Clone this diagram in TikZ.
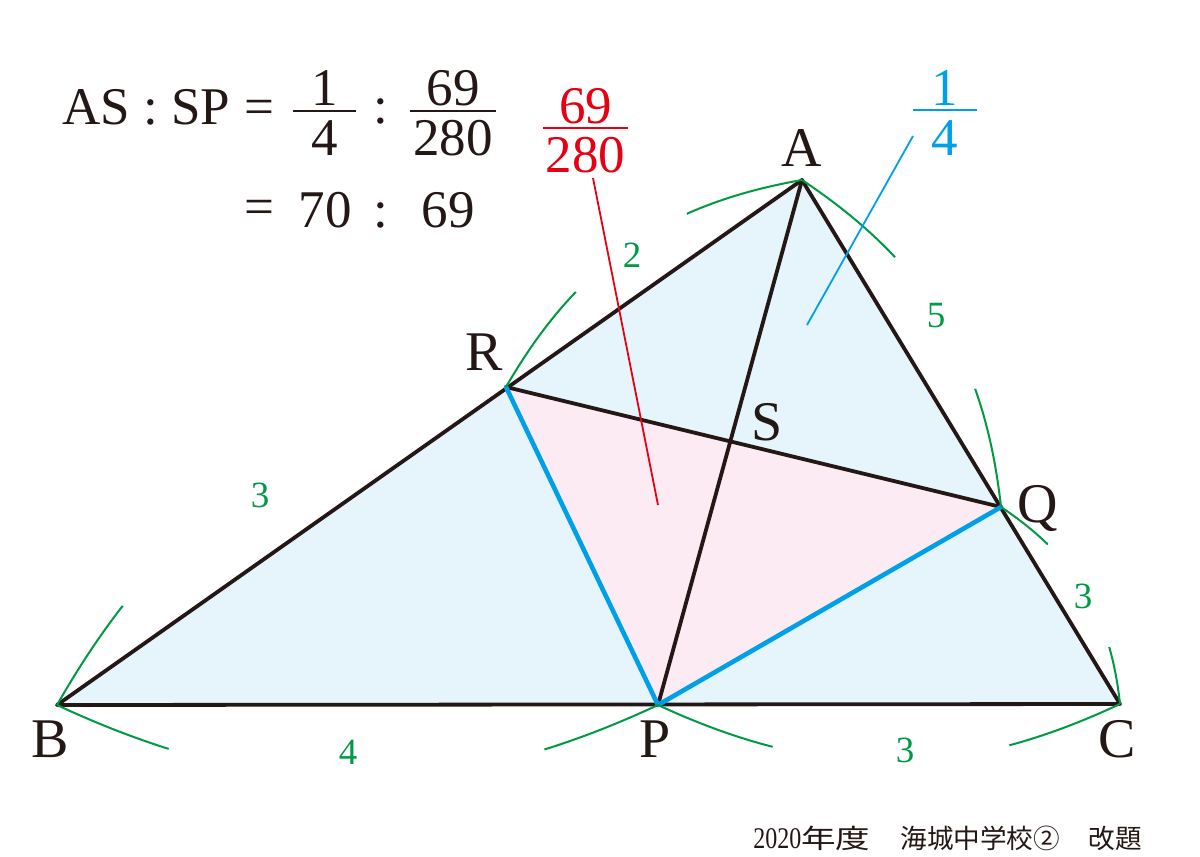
\documentclass[tikz,border=0pt]{standalone}
\usepackage{fontspec}
\setmainfont{Liberation Serif}
\newfontfamily\cjk{Noto Sans CJK JP}
\definecolor{ink}{HTML}{231815}
\definecolor{fillblue}{HTML}{E6F4FC}
\definecolor{fillpink}{HTML}{FCEBF3}
\definecolor{lineblue}{HTML}{00A0E9}
\definecolor{markgreen}{HTML}{009944}
\definecolor{markred}{HTML}{E60012}
\begin{document}
\begin{tikzpicture}[x=0.5pt,y=-0.5pt,
  edge/.style={draw=ink,line width=1.9pt,line join=round,line cap=round},
  cevian/.style={draw=lineblue,line width=2.3pt,line join=round,line cap=round},
  arcmark/.style={draw=markgreen,line width=1pt},
  vlabel/.style={font=\fontsize{28}{28}\selectfont,text=ink,anchor=base,inner sep=0pt},
  seglabel/.style={font=\fontsize{18.5}{18.5}\selectfont,text=markgreen,anchor=base,inner sep=0pt},
  eqtext/.style={font=\fontsize{26.5}{26.5}\selectfont,text=ink,anchor=base,inner sep=0pt},
  fracbar/.style={line width=0.8pt},
  leader/.style={line width=0.9pt},
  foot/.style={font=\fontsize{13.3}{13.3}\selectfont,text=ink,anchor=base west,inner sep=0pt}
]
\useasboundingbox (0,0) rectangle (1200,857);

% points
\coordinate (A) at (802,180);
\coordinate (B) at (57,705);
\coordinate (C) at (1120,704);
\coordinate (P) at (658,705);
\coordinate (Q) at (1001,507);
\coordinate (R) at (506,387);
\coordinate (S) at (intersection of A--P and R--Q);

% fills
\fill[fillblue] (A) -- (B) -- (C) -- cycle;
\fill[fillpink] (R) -- (P) -- (Q) -- cycle;

% segments
\draw[edge] (A) -- (B) -- (C) -- cycle;
\draw[edge] (R) -- (Q);
\draw[edge] (A) -- (P);
\draw[cevian] (R) -- (P) -- (Q);

% green length arcs (only their ends are shown)
\begin{scope}
  \clip (B) circle[radius=120] (P) circle[radius=122];
  \draw[arcmark] (B) to[bend right=25] (P);
\end{scope}
\begin{scope}
  \clip (P) circle[radius=122] (C) circle[radius=118];
  \draw[arcmark] (P) to[bend right=25] (C);
\end{scope}
\begin{scope}
  \clip (C) circle[radius=58] (Q) circle[radius=60];
  \draw[arcmark] (C) to[bend right=25] (Q);
\end{scope}
\begin{scope}
  \clip (Q) circle[radius=121] (A) circle[radius=121];
  \draw[arcmark] (Q) to[bend right=25] (A);
\end{scope}
\begin{scope}
  \clip (A) circle[radius=120] (R) circle[radius=118];
  \draw[arcmark] (A) to[bend right=25] (R);
\end{scope}
\begin{scope}
  \clip (B) circle[radius=119];
  \draw[arcmark] (R) to[bend right=25] (B);
\end{scope}

% vertex labels
\node[vlabel] (lA) at (802,166) {A};
\node[vlabel] (lB) at (50,757) {B};
\node[vlabel] (lC) at (1117,757) {C};
\node[vlabel] (lP) at (655,757) {P};
\node[vlabel] (lQ) at (1038,522) {Q};
\node[vlabel] (lR) at (484,370) {R};
\node[vlabel] (lS) at (767,440) {S};

% segment ratios
\node[seglabel] (n2) at (632,267) {2};
\node[seglabel] (n5) at (936,327) {5};
\node[seglabel] (n3a) at (260,507) {3};
\node[seglabel] (n3b) at (1083,608) {3};
\node[seglabel] (n4) at (348,764) {4};
\node[seglabel] (n3c) at (905,762) {3};

% formula, first row
\node[eqtext,anchor=base west] (ratio) at (62,124) {AS : SP};
\node[eqtext] (eq1) at (259,124) {=};
\node[eqtext] (num1) at (324.5,105) {1};
\draw[ink,fracbar] (293,111) -- (356,111);
\node[eqtext] (den1) at (324.5,155) {4};
\node[eqtext] (col1) at (381,123) {:};
\node[eqtext] (num2) at (453,105) {69};
\draw[ink,fracbar] (410,111) -- (496,111);
\node[eqtext] (den2) at (453,155) {280};
% formula, second row
\node[eqtext] (eq2) at (259,224) {=};
\node[eqtext] (r70) at (325,227) {70};
\node[eqtext] (col2) at (381,227) {:};
\node[eqtext] (r69) at (448,227) {69};

% red fraction and leader
\node[eqtext,text=markred] (rnum) at (585.5,123) {69};
\draw[markred,fracbar] (543,128) -- (628,128);
\node[eqtext,text=markred] (rden) at (585.5,172) {280};
\coordinate (redTop) at (593,178);
\coordinate (redTip) at (658,505);
\draw[markred,leader] (redTop) -- (redTip);

% blue fraction and leader
\node[eqtext,text=lineblue] (bnum) at (945,105) {1};
\draw[lineblue,fracbar] (913,110) -- (977,110);
\node[eqtext,text=lineblue] (bden) at (945,155) {4};
\coordinate (blueTop) at (913,136);
\coordinate (blueTip) at (807,325);
\draw[lineblue,leader] (blueTop) -- (blueTip);

% footer
\node[foot] (f1) at (753,848) {\scalebox{0.8}[1]{\fontsize{15}{15}\selectfont 2020}\cjk\scalebox{1.3}[1]{年度}};
\node[foot] (f2) at (900,848) {\cjk 海城中学校②};
\node[foot] (f3) at (1088,848) {\cjk 改題};
\end{tikzpicture}
\end{document}
